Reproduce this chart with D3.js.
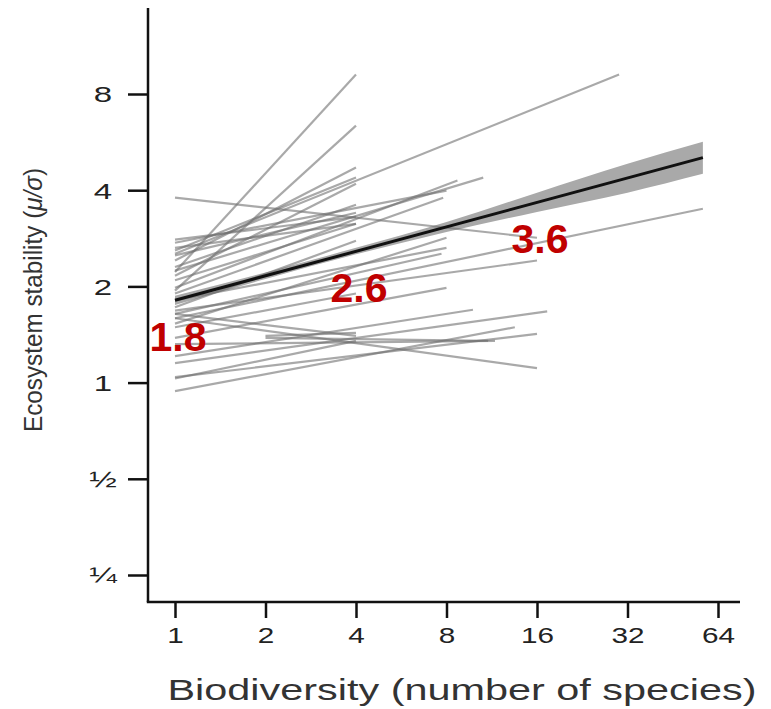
<!DOCTYPE html>
<html>
<head>
<meta charset="utf-8">
<script src="https://cdn.jsdelivr.net/npm/d3@7"></script>
<style>
  body { margin: 0; background: #fff; }
  svg { font-family: "Liberation Sans", Arial, sans-serif; }
</style>
</head>
<body>
<div id="chart"></div>
<script>
// Ticks
const xTicks = [1, 2, 4, 8, 16, 32, 64];
const yTicks = [0.25, 0.5, 1, 2, 4, 8];
const yTickLabels = ["¼", "½", "1", "2", "4", "8"];

// Lineas por estudio (inicio y fin)
const lineX0 = [1, 1, 1, 1, 1, 1, 1, 1, 1, 1, 1, 1, 1, 1, 1, 1, 1, 1, 1, 2, 2, 1, 1, 1, 1, 1, 1, 1, 1, 1, 1, 1, 1, 1];
const lineY0 = [2.22, 1.94, 2.41, 2.59, 2.16, 2.53, 2.24, 1.98, 1.90, 1.64, 3.79, 1.68, 1.59, 1.21, 1.15, 0.94, 1.04, 1.32, 1.59, 1.40, 1.38, 2.74, 2.64, 2.09, 1.72, 1.53, 2.50, 1.81, 1.49, 1.38, 1.64, 1.03, 2.80, 2.30];
const lineX1 = [4, 4, 4, 4, 4, 30, 10.6, 8.7, 7.8, 7.7, 16, 16, 57, 9.8, 17.3, 13.5, 16, 11.6, 16, 4, 11, 8, 4, 4, 4, 8, 4, 8, 4, 8, 4, 4, 4, 4];
const lineY1 = [9.2, 6.37, 4.71, 4.38, 4.19, 9.2, 4.38, 4.29, 3.79, 2.53, 2.84, 2.41, 3.5, 1.69, 1.67, 1.49, 1.42, 1.35, 1.11, 1.43, 1.35, 3.99, 3.14, 3.14, 2.78, 2.84, 3.4, 2.64, 1.9, 1.98, 1.40, 1.35, 3.3, 3.6];

// Ajuste global e intervalo
const fitX = [1, 57];
const fitY = [1.81, 5.06];
const bandX = [1, 2, 4, 8, 16, 32, 57];
const bandLo = [1.75, 2.11, 2.52, 2.96, 3.42, 3.93, 4.50];
const bandHi = [1.87, 2.21, 2.64, 3.18, 3.93, 4.84, 5.67];

// Etiquetas rojas
const noteX = [1, 4, 16];
const noteY = [1.81, 2.58, 3.67];
const noteText = ["1.8", "2.6", "3.6"];

const W = 771, H = 709;
const svg = d3.select("#chart").append("svg")
  .attr("width", W).attr("height", H);

const x = d3.scaleLog().base(2).domain([1, 64]).range([175, 718]);
const y = d3.scaleLog().base(2).domain([0.25, 8]).range([575, 94]);
const axisX = 148, axisY = 602;

// Banda
const band = bandX.map((d, i) => ({ x: d, lo: bandLo[i], hi: bandHi[i] }));
svg.append("path")
  .datum(band)
  .attr("fill", "#a9a9a9")
  .attr("d", d3.area()
    .x(d => x(d.x))
    .y0(d => y(d.lo))
    .y1(d => y(d.hi))
    .curve(d3.curveMonotoneX));

// Lineas grises
const lines = lineX0.map((d, i) => [[d, lineY0[i]], [lineX1[i], lineY1[i]]]);
svg.selectAll(".study")
  .data(lines)
  .enter()
  .append("path")
  .attr("class", "study")
  .attr("fill", "none")
  .attr("stroke", "#707070")
  .attr("stroke-opacity", 0.6)
  .attr("stroke-width", 2.2)
  .attr("d", d3.line().x(d => x(d[0])).y(d => y(d[1])));

// Linea de ajuste
svg.append("path")
  .datum(fitX.map((d, i) => [d, fitY[i]]))
  .attr("fill", "none")
  .attr("stroke", "#111")
  .attr("stroke-width", 3)
  .attr("d", d3.line().x(d => x(d[0])).y(d => y(d[1])));

// Eje Y
const gy = svg.append("g")
  .attr("transform", `translate(${axisX},0)`)
  .call(d3.axisLeft(y).tickValues(yTicks).tickSize(20).tickSizeOuter(0)
    .tickFormat((d, i) => yTickLabels[i]));
gy.select(".domain").remove();
gy.selectAll(".tick line").attr("stroke", "#111").attr("stroke-width", 2.5);
gy.selectAll(".tick text")
  .attr("fill", "#222")
  .style("font-size", "22px")
  .attr("text-anchor", "middle")
  .attr("x", -45)
  .attr("dy", "0.36em");
gy.append("line")
  .attr("x1", 0).attr("x2", 0)
  .attr("y1", 8).attr("y2", axisY)
  .attr("stroke", "#111").attr("stroke-width", 2.5);

// Eje X
const gx = svg.append("g")
  .attr("transform", `translate(0,${axisY})`)
  .call(d3.axisBottom(x).tickValues(xTicks).tickSize(16).tickSizeOuter(0)
    .tickFormat(d3.format("d")));
gx.select(".domain").remove();
gx.selectAll(".tick line").attr("stroke", "#111").attr("stroke-width", 2.5);
gx.selectAll(".tick text")
  .attr("fill", "#222")
  .style("font-size", "22px")
  .attr("y", 25)
  .attr("dy", "0.71em");
gx.append("line")
  .attr("x1", axisX - 1.2).attr("x2", 740)
  .attr("y1", 0).attr("y2", 0)
  .attr("stroke", "#111").attr("stroke-width", 2.5);

// estirar etiquetas horizontalmente como en la figura
function stretch(sel, k) {
  sel.each(function() {
    const w = this.getComputedTextLength();
    d3.select(this).attr("textLength", w * k).attr("lengthAdjust", "spacingAndGlyphs");
  });
}
stretch(gy.selectAll(".tick text"), 1.5);
stretch(gx.selectAll(".tick text"), 1.35);

// Titulos
svg.append("text")
  .attr("x", 462).attr("y", 700)
  .attr("text-anchor", "middle")
  .attr("fill", "#333")
  .style("font-size", "30px")
  .attr("textLength", 589)
  .attr("lengthAdjust", "spacingAndGlyphs")
  .text("Biodiversity (number of species)");

const yt = svg.append("text")
  .attr("transform", "translate(42,300) rotate(-90)")
  .attr("text-anchor", "middle")
  .attr("fill", "#333")
  .style("font-size", "26px")
  .attr("textLength", 264)
  .attr("lengthAdjust", "spacingAndGlyphs");
yt.append("tspan").text("Ecosystem stability (");
yt.append("tspan").style("font-style", "italic").text("μ/σ");
yt.append("tspan").text(")");

// Etiquetas de valor
svg.selectAll(".note")
  .data(noteX)
  .enter()
  .append("text")
  .attr("class", "note")
  .attr("x", d => x(d) + 3)
  .attr("y", (d, i) => y(noteY[i]) + 51)
  .attr("text-anchor", "middle")
  .attr("fill", "#c00000")
  .style("font-size", "41px")
  .style("font-weight", "bold")
  .text((d, i) => noteText[i]);
</script>
</body>
</html>
